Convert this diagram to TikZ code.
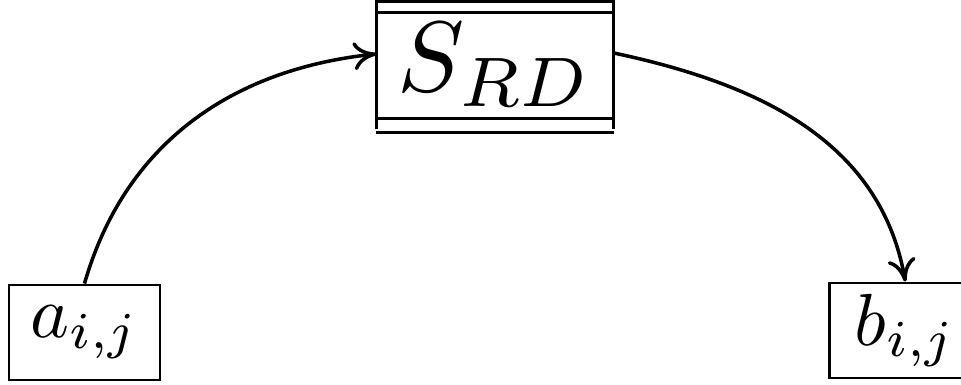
\documentclass[tikz,border=0pt]{standalone}
\usepackage{amsmath}
\usepackage{graphicx}
\usepackage{tikz}
\usetikzlibrary{arrows.meta,positioning,calc}
\newcommand{\elemtxt}[1]{\scalebox{2.1}{$#1$}}
\newcommand{\storetxt}[1]{\scalebox{2.85}{$#1$}}
\tikzset{
  elem/.style={draw,line width=0.8pt,minimum width=1.51cm,minimum height=0.95cm,
               inner sep=0pt},
  srdbox/.style={minimum width=2.36cm,minimum height=1.26cm,inner sep=0pt},
  bar/.style={line width=0.8pt},
  arr/.style={-{To[length=6.5pt,width=8pt]},line width=1pt},
}
\begin{document}
\begin{tikzpicture}
  \useasboundingbox (0,0) rectangle (9.61,3.85);
  % input and output elements
  \node[elem](a) at (0.845,0.525){\elemtxt{a_{i,j}}};
  \node[elem,right=6.67cm of a,yshift=0.02cm](b){\elemtxt{b_{i,j}}};
  % store
  \node[srdbox](srd) at (4.95,3.20){\storetxt{S_{RD}}};
  \draw[bar](srd.south west)--(srd.north west)--(srd.north east)--(srd.south east);
  \draw[bar]([yshift=-0.11cm]srd.north west)--([yshift=-0.11cm]srd.north east);
  \draw[bar]([yshift=0.10cm]srd.south west)--([yshift=0.10cm]srd.south east);
  \draw[bar]([yshift=-0.04cm]srd.south west)--([yshift=-0.04cm]srd.south east);

  % Arrows
  \draw[arr](a.north) to[out=74,in=186] ([yshift=0.11cm]srd.west);
  \draw[arr]([yshift=0.12cm]srd.east) to[out=-12,in=100] (b.north);
\end{tikzpicture}
\end{document}
